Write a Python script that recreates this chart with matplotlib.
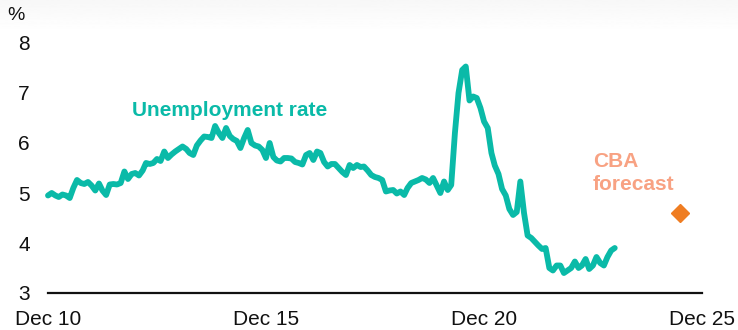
import numpy as np
import pandas as pd
import matplotlib
matplotlib.use("Agg")
import matplotlib.pyplot as plt

# Monthly unemployment rate (%), Dec 2010 - Dec 2023
start_month = "2010-12-01"
unemployment = [
    4.95, 5.0, 4.95, 4.92, 4.97, 4.95, 4.9, 5.1, 5.26, 5.2, 5.18, 5.22,
    5.15, 5.05, 5.19, 5.05, 4.96, 5.17, 5.18, 5.17, 5.2, 5.43, 5.28, 5.38,
    5.4, 5.35, 5.45, 5.6, 5.58, 5.6, 5.68, 5.64, 5.83, 5.7, 5.77, 5.83,
    5.88, 5.93, 5.88, 5.8, 5.76, 5.95, 6.05, 6.13, 6.12, 6.1, 6.34, 6.2,
    6.1, 6.3, 6.14, 6.08, 6.04, 5.9, 6.1, 6.26, 6.0, 5.95, 5.93, 5.86,
    5.7, 6.0, 5.72, 5.65, 5.63, 5.7, 5.7, 5.69, 5.62, 5.6, 5.57, 5.76,
    5.8, 5.66, 5.83, 5.8, 5.62, 5.53, 5.58, 5.58, 5.5, 5.42, 5.36, 5.56,
    5.5, 5.56, 5.52, 5.53, 5.45, 5.36, 5.32, 5.3, 5.26, 5.03, 5.05, 5.06,
    4.99, 5.03, 4.96, 5.1, 5.2, 5.23, 5.26, 5.3, 5.27, 5.2, 5.3, 5.15,
    5.0, 5.23, 5.06, 5.16, 6.2, 7.0, 7.46, 7.53, 6.85, 6.93, 6.9, 6.7,
    6.43, 6.3, 5.8, 5.55, 5.38, 5.08, 4.95, 4.68, 4.56, 4.62, 5.23, 4.6,
    4.15, 4.1, 4.02, 3.95, 3.88, 3.9, 3.5, 3.45, 3.55, 3.55, 3.4, 3.45,
    3.5, 3.63, 3.5, 3.55, 3.68, 3.48, 3.55, 3.72, 3.6, 3.55, 3.72, 3.85,
    3.9,
]
forecast_date = "2025-06-01"
forecast_value = 4.6

tick_dates = ["2010-12-01", "2015-12-01", "2020-12-01", "2025-12-01"]
tick_labels = ["Dec 10", "Dec 15", "Dec 20", "Dec 25"]
y_ticks = [3, 4, 5, 6, 7, 8]

TEAL = "#0ABAA8"
ORANGE = "#EF7D22"
SALMON = "#F8A283"

plt.rcParams["font.family"] = ["Liberation Sans", "DejaVu Sans"]

dates = pd.date_range(start_month, periods=len(unemployment), freq="MS")

fig = plt.figure(figsize=(7.38, 3.3), dpi=100)

# faint grey band fading out at the top of the picture
bg = fig.add_axes([0, 0.9, 1, 0.1], zorder=-10)
grad = np.linspace(0.97, 1.0, 50).reshape(-1, 1)
bg.imshow(grad, aspect="auto", cmap="gray", vmin=0, vmax=1, extent=[0, 1, 0, 1])
bg.axis("off")

ax = fig.add_axes([48 / 738, 1 - 293 / 330, 654 / 738, 250 / 330])
ax.patch.set_alpha(0)

ax.plot(dates, unemployment, color=TEAL, lw=4.2, solid_joinstyle="round",
        solid_capstyle="round", clip_on=False)
ax.plot(pd.Timestamp(forecast_date), forecast_value, marker="D", ms=9,
        color=ORANGE, mec=ORANGE, clip_on=False)

ax.set_xlim(pd.Timestamp(tick_dates[0]), pd.Timestamp(tick_dates[-1]))
ax.set_ylim(3, 8)
ax.set_xticks([pd.Timestamp(d) for d in tick_dates])
ax.set_xticklabels(tick_labels)
ax.set_yticks(y_ticks)
ax.tick_params(axis="both", length=0, labelsize=15, colors="#111111")
ax.tick_params(axis="x", pad=12)
ax.tick_params(axis="y", pad=13)

for side in ["top", "right", "left"]:
    ax.spines[side].set_visible(False)
ax.spines["bottom"].set_linewidth(1.6)
ax.spines["bottom"].set_color("#111111")

fig.text(16 / 738, 1 - 16 / 330, "%", fontsize=14, ha="center", va="center",
         color="#111111")

ax.text(pd.Timestamp("2015-02-01"), 6.64, "Unemployment rate", color=TEAL,
        fontsize=15, fontweight="bold", ha="center", va="center")
ax.text(pd.Timestamp("2023-06-01"), 5.4, "CBA\nforecast", color=SALMON,
        fontsize=15, fontweight="bold", ha="left", va="center", linespacing=1.25)

fig.savefig("out.png", dpi=100)
